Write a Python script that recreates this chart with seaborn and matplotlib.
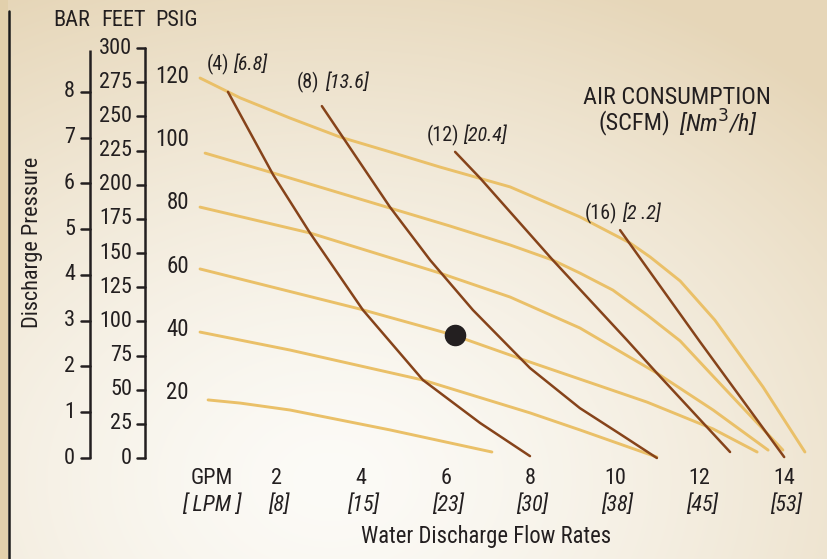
import numpy as np
import pandas as pd
import matplotlib
matplotlib.use('Agg')
import matplotlib.pyplot as plt
import seaborn as sns

# 性能曲线 (流量 GPM, 出口压力 PSIG)，按进气压力分组
gpm_120 = [0.19, 1.14, 2.32, 3.50, 4.68, 5.86, 7.52, 9.17, 10.36, 10.83, 11.54, 12.36, 13.50, 14.49]
psi_120 = [120.4, 114.1, 107.7, 101.7, 97.0, 92.2, 85.9, 76.4, 68.1, 63.7, 56.1, 43.7, 22.5, 1.9]
gpm_100 = [0.31, 1.92, 4.68, 6.10, 7.52, 8.53, 9.17, 9.95, 10.76, 11.54, 12.25, 12.96, 13.97]
psi_100 = [96.6, 90.3, 79.2, 73.5, 67.5, 62.7, 58.6, 53.2, 45.3, 37.1, 26.9, 16.8, 2.5]
gpm_80 = [0.19, 2.79, 5.86, 7.52, 9.17, 10.99, 12.32, 13.62]
psi_80 = [79.5, 71.3, 58.6, 51.0, 41.2, 26.9, 15.2, 2.5]
gpm_60 = [0.19, 3.97, 6.17, 7.99, 9.65, 10.76, 12.32, 13.36]
psi_60 = [59.9, 47.2, 39.0, 30.4, 22.8, 17.7, 9.2, 1.9]
gpm_40 = [0.19, 2.32, 5.46, 7.99, 9.17, 10.99]
psi_40 = [39.9, 34.2, 24.7, 14.3, 8.9, 0.3]
gpm_20 = [0.38, 1.14, 2.32, 4.68, 7.09]
psi_20 = [18.4, 17.4, 15.2, 8.9, 1.9]

# 耗气量曲线 (SCFM)
gpm_a4 = [0.85, 1.92, 2.79, 4.04, 5.46, 6.81, 7.99]
psi_a4 = [116.0, 89.7, 71.3, 46.9, 24.7, 11.1, 0.6]
gpm_a8 = [3.07, 4.68, 5.63, 6.64, 7.99, 9.17, 10.12, 10.99]
psi_a8 = [111.5, 79.5, 62.7, 46.9, 28.5, 15.8, 7.6, 0.0]
gpm_a12 = [6.22, 6.81, 8.53, 10.28, 10.99, 12.72]
psi_a12 = [97.0, 88.7, 62.7, 37.4, 26.9, 1.9]
gpm_a16 = [10.12, 12.01, 14.00]
psi_a16 = [72.2, 36.8, 0.3]

air_scfm = ['(4)', '(8)', '(12)', '(16)']
air_nm3 = ['[6.8]', '[13.6]', '[20.4]', '[2 .2]']

psig_labels = [120, 100, 80, 60, 40, 20]
bar_ticks = list(range(0, 9))
feet_ticks = list(range(0, 301, 25))
gpm_ticks = [2, 4, 6, 8, 10, 12, 14]
lpm_labels = ['[8]', '[15]', '[23]', '[30]', '[38]', '[45]', '[53]']

op_gpm, op_psi = 6.22, 39.0

# 像素 -> 数据 的换算
X0, SX = 192, 42.3
Y0, SY = 458, 3.156


def gx(px):
    return (px - X0) / SX


def gy(py):
    return (Y0 - py) / SY


perf = pd.concat([
    pd.DataFrame({'gpm': g, 'psi': p, 'curve': f'p{n}'})
    for g, p, n in [(gpm_120, psi_120, 120), (gpm_100, psi_100, 100),
                    (gpm_80, psi_80, 80), (gpm_60, psi_60, 60),
                    (gpm_40, psi_40, 40), (gpm_20, psi_20, 20)]
])
air = pd.concat([
    pd.DataFrame({'gpm': g, 'psi': p, 'curve': f'a{n}'})
    for g, p, n in [(gpm_a4, psi_a4, 4), (gpm_a8, psi_a8, 8),
                    (gpm_a12, psi_a12, 12), (gpm_a16, psi_a16, 16)]
])

sns.set_theme(style='white')
plt.rcParams['font.family'] = ['Roboto Condensed', 'Liberation Sans Narrow',
                               'Roboto', 'DejaVu Sans']
TXT = '#231f20'
YEL = '#eac068'
BRN = '#86431a'
FS = 16

fig = plt.figure(figsize=(8.28, 5.59), dpi=100)
ax = fig.add_axes([0, 0, 1, 1])
xl = (gx(0), gx(828))
yl = (gy(559), gy(0))

# 背景渐变
yy, xx = np.mgrid[0:559, 0:828]
t = np.sqrt(((xx - 330) / 720.0) ** 2 + ((yy - 480) / 540.0) ** 2)
t = np.clip(t, 0, 1) ** 1.4
light = np.array([252, 251, 247]) / 255
dark = np.array([230, 214, 184]) / 255
img = light + (dark - light) * t[..., None]
img[:, :8] = np.array([226, 208, 172]) / 255
ax.imshow(img, extent=(xl[0], xl[1], yl[0], yl[1]), aspect='auto', zorder=0,
          origin='upper')

sns.lineplot(data=perf, x='gpm', y='psi', units='curve', estimator=None,
             sort=False, color=YEL, lw=2.1, ax=ax, zorder=2)
sns.lineplot(data=air, x='gpm', y='psi', units='curve', estimator=None,
             sort=False, color=BRN, lw=1.8, ax=ax, zorder=3)
ax.plot([op_gpm], [op_psi], 'o', color=TXT, ms=14.5, zorder=4)

ax.set_xlim(*xl)
ax.set_ylim(*yl)
ax.axis('off')

# 左侧黑线
ax.plot([gx(9), gx(9)], [gy(11), gy(559)], color='#1a1a1a', lw=1.8)

# BAR 刻度
bar_psi = [b * 14.5038 for b in bar_ticks]
ax.plot([gx(90), gx(90)], [gy(50), 0], color=TXT, lw=1.8, solid_capstyle='butt')
for b, p in zip(bar_ticks, bar_psi):
    ax.plot([gx(81), gx(90)], [p, p], color=TXT, lw=1.8)
    ax.text(gx(75), p, str(b), ha='right', va='center', fontsize=FS, color=TXT)

# FEET 刻度
feet_psi = [f / 2.31 for f in feet_ticks]
ax.plot([gx(145), gx(145)], [feet_psi[-1], 0], color=TXT, lw=1.8)
for f, p in zip(feet_ticks, feet_psi):
    ax.plot([gx(137), gx(145)], [p, p], color=TXT, lw=1.8)
    ax.text(gx(132), p, str(f), ha='right', va='center', fontsize=FS, color=TXT)

for p in psig_labels:
    ax.text(gx(189), p + 0.8, str(p), ha='right', va='center', fontsize=16.5, color=TXT)

ax.text(gx(72), gy(20), 'BAR', ha='center', va='center', fontsize=FS, color=TXT)
ax.text(gx(124), gy(20), 'FEET', ha='center', va='center', fontsize=FS, color=TXT)
ax.text(gx(177), gy(20), 'PSIG', ha='center', va='center', fontsize=FS, color=TXT)
ax.text(gx(33), gy(242), 'Discharge Pressure', rotation=90, ha='center',
        va='center', fontsize=FS, color=TXT)

# X 轴标签
ax.text(gx(212), gy(478), 'GPM', ha='center', va='center', fontsize=FS, color=TXT)
ax.text(gx(212), gy(505), '[ LPM ]', ha='center', va='center', fontsize=FS,
        style='italic', color=TXT)
for g, l in zip(gpm_ticks, lpm_labels):
    ax.text(g, gy(478), str(g), ha='center', va='center', fontsize=FS, color=TXT)
    ax.text(g + 0.05, gy(505), l, ha='center', va='center', fontsize=FS,
            style='italic', color=TXT)
ax.text(gx(486), gy(536), 'Water Discharge Flow Rates', ha='center',
        va='center', fontsize=16.3, color=TXT)

# 耗气量标注
air_pos = [(207, 233, 64), (297, 325, 82), (427, 463, 135), (585, 622, 213)]
for s, n, (x1, x2, y) in zip(air_scfm, air_nm3, air_pos):
    ax.text(gx(x1), gy(y), s, ha='left', va='center', fontsize=14.5, color=TXT)
    ax.text(gx(x2), gy(y), n, ha='left', va='center', fontsize=14.5,
            style='italic', color=TXT)

ax.text(gx(677), gy(98), 'AIR CONSUMPTION', ha='center', va='center',
        fontsize=17.5, color=TXT)
ax.text(gx(599), gy(123), '(SCFM)', ha='left', va='center', fontsize=17.5, color=TXT)
ax.text(gx(679), gy(123), '[Nm$^3$/h]', ha='left', va='center', fontsize=17.5,
        style='italic', color=TXT)

fig.savefig('out.png', dpi=100)
